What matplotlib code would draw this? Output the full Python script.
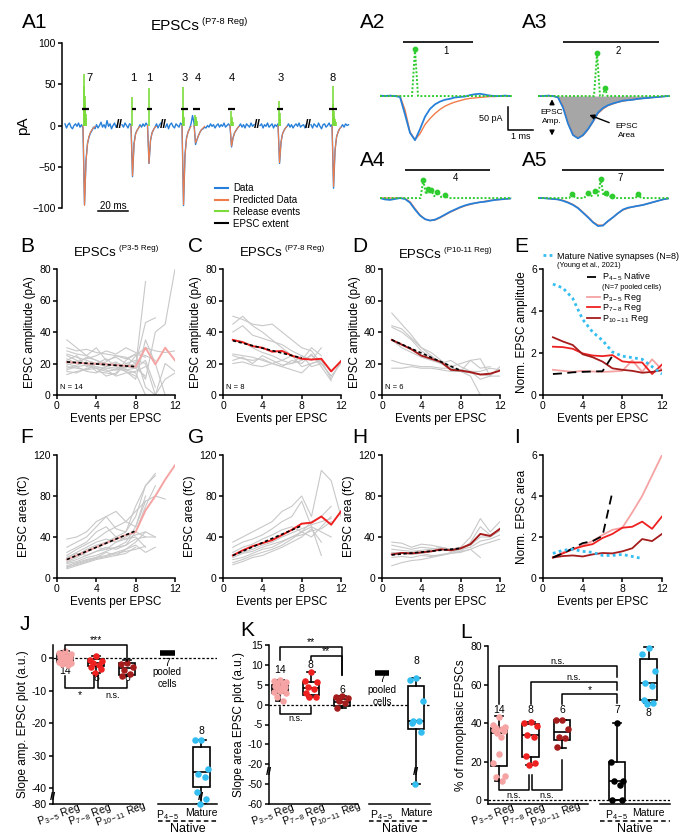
import numpy as np
import matplotlib
matplotlib.use("Agg")
import matplotlib.pyplot as plt
import matplotlib.transforms as mtransforms

plt.rcParams["font.family"] = ["Liberation Sans", "DejaVu Sans"]
plt.rcParams["mathtext.fontset"] = "custom"
plt.rcParams["mathtext.rm"] = "Liberation Sans"
plt.rcParams["mathtext.it"] = "Liberation Sans:italic"
plt.rcParams["mathtext.bf"] = "Liberation Sans:bold"
plt.rcParams["axes.linewidth"] = 1.1
plt.rcParams["xtick.major.width"] = 1.1
plt.rcParams["ytick.major.width"] = 1.1
plt.rcParams["xtick.major.size"] = 3
plt.rcParams["ytick.major.size"] = 3
plt.rcParams["xtick.labelsize"] = 7.5
plt.rcParams["ytick.labelsize"] = 7.5
plt.rcParams["xtick.major.pad"] = 1.5
plt.rcParams["ytick.major.pad"] = 1.5

BLUE = "#2680d9"
ORANGE = "#f07c4a"
LIME = "#7cdc3c"
GREEN = "#2ecc2e"
GRAY = "#c8c8c8"
PINK = "#f5a3a3"
RED = "#ee2020"
DRED = "#a51c1c"
CYAN = "#33bdf0"

# ---------------- A1 : example recording (P7-8 Reg), 1 ms samples ----------------
a1_seg_start = [2, 40, 69, 132, 166]
a1_seg1 = [2, -3, 1, 3, -2, -4, 0, 2, -1, 3, -2, 1, -3,
           -96, -42, -22, -14, -9, -6, -2, -4, 1, -3, 0, 4, -2, 1, -3, 6, -1, 2, -4, 0, 3, -2, 1]
a1_seg2 = [1, -2, 3, 0, -3, 2, 1,
           -62, -22, -10, -6, -3, 1, -2, 2, -1, 3, 0,
           -46, -18, -9, -5, -2, 2, -3, 1, 3]
a1_seg3 = [-2, 2, -4, 1, 3, -1, -3, 2, 0, -2, 3, 1,
           -97, -35, -15, -8, -4, 2, 12, 3,
           -23, -17, -12, -8, -5, -4, -2, -3, 0, -2, 2, -1, 1, -3, 0, 2, -2, 1, -1, 3, -2, 0, 2, -1,
           -26, -15, -9, -6, -3, -1, 2, -2, 1, -3, 2, 0, -2, 3, -1, 1]
a1_seg4 = [0, 2, -3, 1, -1, 3, -2, 0, 2, -3, 1, -1, 2,
           -46, -20, -10, -6, -3, -1, 2, -2, 1, -3, 0, 2, -1, 3, -2, 0, 1, -3, 2]
a1_seg5 = [1, -3, 2, 0, -2, 3, -1, -4, 1, 2, -2, 0, 3, -1, 1,
           -76, -30, -14, -8, -4, -2, 1, -2, 2, 0, 1]
a1_segments = [a1_seg1, a1_seg2, a1_seg3, a1_seg4, a1_seg5]

a1_pred_start = [14, 46, 57, 80, 88, 112, 144, 180]
a1_pred = [[0, -97, -44, -22, -13, -8, -5, -3, -1],
           [0, -61, -23, -11, -6, -3, -1],
           [0, -46, -18, -9, -5, -2, -1],
           [0, -96, -36, -16, -8, -4, -1],
           [0, -21, -17, -12, -8, -5, -3, -1],
           [0, -25, -15, -9, -6, -3, -1],
           [0, -45, -20, -10, -6, -3, -1],
           [0, -74, -30, -14, -8, -4, -2]]

a1_release_t = [14.4, 14.7, 15.0, 15.3, 15.6, 15.9, 16.2, 46.8, 57.8, 80.6, 80.9, 81.2,
                88.8, 89.1, 89.4, 89.7, 112.8, 113.1, 113.4, 113.7, 144.8, 145.1, 145.4,
                180.4, 180.7, 181.0, 181.3, 181.6, 181.9, 182.2, 182.5]
a1_release_h = [62, 48, 36, 28, 20, 14, 9, 35, 45, 47, 20, 10,
                13, 10, 8, 5, 18, 10, 6, 4, 30, 15, 8,
                48, 26, 18, 12, 10, 8, 5, 4]
a1_extent_t0 = [13.3, 46.7, 56.7, 79.3, 87.3, 110.7, 143.3, 178.0]
a1_extent_t1 = [18.0, 49.3, 60.0, 84.0, 92.0, 115.3, 147.3, 183.3]
a1_extent_y = [20, 20, 20, 20, 20, 20, 20, 20]
a1_counts = ["7", "1", "1", "3", "4", "4", "3", "8"]
a1_count_t = [18.0, 47.3, 58.0, 82.0, 90.7, 113.3, 146.0, 180.7]
a1_breaks = [38.5, 67.5, 130.0, 164.5]

# ---------------- A2-A5 : single EPSCs, 0.2 ms samples ----------------
a2_blue = [1, 0, 1, 0, -2, -40, -80, -96, -72, -45, -28, -18, -12, -8, -6, -3, -2, -1, 2, 4, 5, 3, 1, 0, 0, 1, 0]
a2_orange = [0, 0, 0, 0, 0, -30, -78, -95, -82, -62, -49, -38, -29, -22, -17, -13, -10, -7, -5, -4, -3, -2, -1, -1, 0, 0, 0]
a3_blue = [0, 0, 1, 0, -3, -25, -60, -85, -92, -85, -72, -55, -36, -26, -20, -16, -13, -10, -9, -8, -6, -5, -4, -3, -2, -1, 0]
a3_orange = [0, 0, 0, 0, -2, -22, -58, -84, -91, -86, -73, -56, -38, -28, -21, -17, -13, -11, -9, -7, -6, -5, -4, -3, -2, -1, 0]
a4_blue = [0, -3, -4, -2, 0, -2, -10, -25, -38, -46, -49, -47, -42, -36, -30, -25, -20, -16, -13, -11, -9, -8, -6, -4, -3, -2, -1]
a4_orange = [0, 0, 0, 0, 0, -1, -8, -23, -37, -46, -49, -48, -43, -37, -31, -26, -21, -17, -14, -11, -9, -7, -5, -4, -3, -2, -1]
a5_blue = [0, 0, -1, -2, -3, -6, -10, -15, -22, -32, -42, -53, -61, -60, -50, -42, -33, -25, -21, -19, -17, -15, -12, -9, -6, -3, -1]
a5_orange = [0, 0, -1, -2, -3, -5, -9, -14, -21, -31, -41, -52, -59, -59, -51, -42, -33, -26, -22, -19, -17, -15, -12, -9, -6, -3, -1]

a2_rel_t = [0, 1.28, 1.4, 1.52, 5.28]
a2_rel_v = [0, 0, 102, 0, 0]
a3_rel_t = [0, 2.24, 2.36, 2.48, 2.58, 2.68, 2.78, 5.28]
a3_rel_v = [0, 0, 93, 0, 0, 17, 0, 0]
a4_rel_t = [0, 1.62, 1.73, 1.84, 1.93, 1.99, 2.05, 2.17, 2.29, 2.45, 2.6, 2.72, 5.28]
a4_rel_v = [0, 0, 39, 8, 20, 10, 17, 4, 14, 2, 7, 0, 0]
a5_rel_t = [0, 1.25, 1.35, 1.5, 1.85, 1.99, 2.12, 2.29, 2.4, 2.51, 2.62, 2.72, 2.84, 2.95, 3.06, 3.9, 4.01, 4.12, 5.28]
a5_rel_v = [0, 0, 9, 0, 0, 12, 3, 15, 5, 41, 5, 10, 2, 5, 0, 0, 9, 0, 0]
a2_peak_t, a2_peak_v = [1.4], [102]
a3_peak_t, a3_peak_v = [2.36, 2.68], [93, 17]
a4_peak_t, a4_peak_v = [1.73, 1.93, 2.05, 2.29, 2.6], [39, 20, 17, 14, 7]
a5_peak_t, a5_peak_v = [1.35, 1.99, 2.29, 2.51, 2.72, 2.95, 4.01], [9, 12, 15, 41, 10, 5, 9]

a_extent = [(0.92, 3.72, 117), (1.0, 4.84, 117), (1.0, 4.4, 61), (0.96, 5.04, 61)]
a_counts = ["1", "2", "4", "7"]

# ---------------- B-D : EPSC amplitude vs events per EPSC ----------------
b_cells = [[35, 30, 25, 22, 20, 18, 15, 12],
           [30, 28, 29, 27, 26, 25, 24, 20, 46, 49],
           [28, 26, 25, 30, 22, 24, 20, 18, 72],
           [25, 22, 20, 18, 17, 16, 18, 20, 10, 40, 45, 80],
           [23, 20, 24, 22, 19, 21, 17, 25, 30, 28, 27, 28],
           [22, 25, 18, 20, 23, 18, 16, 14, 0],
           [20, 18, 19, 17, 15, 16, 18, 17, 22, 5],
           [18, 17, 16, 20, 18, 17, 15, 10, 35, 20, 0],
           [17, 19, 21, 15, 14, 13, 20, 22, 20, 0, 20, 15],
           [16, 18, 15, 14, 18, 20, 16, 17, 12],
           [15, 14, 17, 18, 16, 12, 14, 15, 18],
           [13, 15, 16, 17, 12, 14, 22, 26, 24],
           [19, 21, 23, 25, 28, 26, 30, 27, 25, 22],
           [26, 24, 22, 20, 21, 25, 23, 26, 5, 0, 10, 14]]
b_mean = [21, 20.5, 20, 19.8, 19.5, 19, 18.5, 18, 30, 19.5, 30, 22]
b_fit = [21, 18]
c_cells = [[50, 48, 45, 44, 45, 40, 35, 30, 28, 20],
           [45, 50, 44, 40, 35, 30, 25, 22, 25, 20, 12],
           [40, 44, 38, 36, 34, 32, 28, 25, 22, 30],
           [35, 34, 30, 27, 25, 22, 20, 22, 30, 25],
           [26, 25, 24, 22, 20, 18, 16, 14, 20, 22, 10, 22],
           [25, 23, 22, 23, 20, 22, 25, 18, 20, 22, 15],
           [22, 24, 20, 25, 22, 19, 20, 25, 18, 20, 12, 20],
           [20, 21, 19, 18, 20, 18, 22, 20, 26, 18, 9]]
c_mean = [35, 33.5, 31, 30, 27.5, 28, 25, 23, 22.5, 23, 15, 21.5]
c_fit = [34.5, 23.5]
d_cells = [[52, 45, 38, 30, 27, 22, 18, 20, 22, 17, 18],
           [44, 42, 36, 30, 25, 20, 18, 15, 12, 0],
           [43, 40, 35, 28, 24, 20, 22, 18, 15, 10, 12],
           [35, 30, 27, 24, 22, 20, 17, 15, 22, 23, 12, 18],
           [22, 20, 19, 18, 18, 17, 17, 16, 15, 15, 17, 16],
           [17, 17, 18, 17, 17, 16, 15, 15, 14, 13, 12, 12]]
d_mean = [35, 32, 29, 25, 23, 21, 16, 15.5, 14.5, 13, 13.5, 15.5]
d_fit = [35, 15.5]
fit_x = [1, 8]

# ---------------- E : normalised amplitude ----------------
e_mature = [5.28, 5.1, 4.6, 3.6, 3.0, 2.6, 2.05, 1.85, 1.78, 1.7, 1.35, 1.0]
e_native = [1.0, 1.03, 1.08, 1.1, 1.12, 1.13, 1.86]
e_p35 = [1.2, 1.15, 1.1, 1.15, 1.12, 1.1, 1.12, 1.15, 1.65, 1.1, 1.7, 1.2]
e_p78 = [2.3, 2.28, 2.2, 1.98, 1.88, 1.85, 1.9, 1.6, 1.55, 1.55, 1.0, 1.45]
e_p1011 = [2.75, 2.55, 2.38, 1.94, 1.8, 1.59, 1.27, 1.2, 1.15, 1.06, 1.1, 1.18]

# ---------------- F-H : EPSC area vs events per EPSC ----------------
f_cells = [[38, 40, 45, 55, 60, 48, 45, 60, 90, 100],
           [30, 35, 40, 50, 60, 65, 55, 50, 75, 80, 77],
           [25, 30, 35, 45, 50, 40, 45, 70, 90, 102],
           [22, 28, 33, 38, 45, 50, 55, 65, 75],
           [20, 25, 30, 35, 38, 35, 40, 45, 40, 40],
           [18, 22, 28, 32, 35, 40, 38, 42, 45, 40],
           [16, 20, 25, 30, 28, 35, 38, 40, 30],
           [15, 18, 22, 26, 30, 28, 32, 38, 40],
           [14, 16, 20, 22, 26, 30, 35, 50, 80],
           [12, 15, 18, 20, 25, 22, 28, 35, 45],
           [10, 14, 17, 20, 22, 25, 28, 32, 25, 30],
           [9, 12, 15, 18, 20, 22, 24, 30],
           [20, 24, 22, 26, 28, 30, 32, 45, 70, 90],
           [11, 13, 16, 19, 21, 24, 26, 28, 31]]
f_mean = [18, 22, 26, 30, 34, 38, 42, 45, 66, 80, 96, 110]
f_fit = [18, 46]
g_cells = [[35, 40, 45, 50, 55, 65, 70, 80, 60, 105, 95, 60],
           [30, 35, 38, 42, 48, 55, 60, 75, 50, 22],
           [25, 30, 33, 38, 42, 47, 50, 45, 55, 60, 70],
           [22, 25, 28, 32, 35, 40, 44, 48, 52, 55, 58],
           [20, 24, 26, 30, 33, 36, 40, 45, 50, 45, 40],
           [18, 20, 24, 28, 30, 35, 40, 42, 46, 48, 55],
           [15, 18, 22, 25, 28, 32, 38, 45, 40, 50, 60],
           [13, 16, 20, 22, 26, 30, 35, 40, 48, 35]]
g_mean = [22, 27, 31, 34, 37, 42, 47, 53, 54, 60, 52, 65]
g_fit = [22, 51]
h_cells = [[35, 34, 30, 33, 32, 30, 28, 30, 40, 58, 45, 55],
           [32, 30, 28, 30, 29, 28, 27, 26, 35, 50, 42, 48],
           [28, 27, 26, 27, 28, 30, 28, 29, 32, 40, 40, 46],
           [25, 24, 23, 24, 22, 22, 25, 28, 30, 36, 38, 42],
           [20, 21, 20, 22, 21, 23, 24, 25, 28, 20],
           [12, 15, 17, 18, 20, 22, 24, 26, 28, 32, 35, 38]]
h_mean = [23, 24.5, 24, 25, 26, 28, 27, 29, 33, 43, 41, 48]
h_fit = [22.5, 29]

# ---------------- I : normalised area ----------------
i_mature = [1.2, 1.35, 1.4, 1.3, 1.25, 1.1, 1.1, 1.15, 1.05, 0.95]
i_native = [1.0, 1.2, 1.45, 1.7, 1.8, 2.05, 4.2]
i_p35 = [1.0, 1.25, 1.4, 1.6, 1.8, 2.1, 2.35, 2.45, 3.2, 4.0, 5.0, 6.0]
i_p78 = [1.0, 1.2, 1.4, 1.55, 1.65, 1.95, 2.15, 2.45, 2.5, 2.75, 2.4, 3.0]
i_p1011 = [1.0, 1.07, 1.1, 1.05, 1.15, 1.22, 1.2, 1.3, 1.45, 1.9, 1.8, 2.15]

# ---------------- J-L : summary box plots ----------------
group_labels = [r"P$_{3-5}$ Reg", r"P$_{7-8}$ Reg", r"P$_{10-11}$ Reg", r"P$_{4-5}$", "Mature"]
group_n = ["14", "8", "6", "7", "8"]

j_points = [[2.2, 1.6, 1.2, 0.9, 0.6, 0.3, 0.1, -0.2, -0.5, -0.8, -1.1, -1.4, -1.8, -2.1],
            [0.6, -0.5, -1.0, -1.6, -2.1, -2.8, -3.5, -4.6],
            [-1.5, -1.9, -2.8, -3.6, -4.8, -5.4],
            [],
            [-25.3, -25.3, -34.0, -35.8, -36.6, -50, -68, -80]]
# q1, median, q3, whisker low, whisker high
j_box = [(-1.2, -0.3, 1.3, -2.1, 2.2),
         (-2.5, -1.5, -0.2, -4.6, 0.6),
         (-5.2, -3.1, -1.4, -5.4, -0.6),
         None,
         (-39.7, -35.1, -27.5, -80, -25.3)]
j_pooled = [1.6]

k_points = [[6.2, 5.9, 5.6, 5.3, 5.0, 4.7, 4.4, 4.1, 3.8, 3.5, 3.2, 2.8, 2.0, 1.0],
            [8.2, 6.0, 5.6, 4.5, 3.9, 2.8, 2.0, 1.8],
            [2.2, 2.0, 1.6, 0.9, 0.3, -0.8],
            [],
            [6.6, 6.2, 0.8, -4.0, -4.2, -4.6, -6.8, -50]]
k_box = [(2.8, 4.0, 5.0, 1.0, 6.2),
         (2.5, 4.3, 5.8, 1.8, 8.2),
         (-0.4, 0.6, 1.5, -0.8, 2.2),
         None,
         (-6.2, -4.2, 4.7, -50, 6.6)]
k_pooled = [8.0]

l_points = [[43, 39, 38, 37.5, 37, 36.5, 36, 35, 33, 24, 19.5, 12.5, 12, 10],
            [40.5, 40, 38.5, 34, 33, 23, 19.5, 18.5],
            [41.5, 41.5, 37, 33, 32, 27.5],
            [40, 20, 10, 10, 8, 0, 0],
            [79, 76, 67, 61, 59, 52, 50.5, 50]]
l_box = [(17.8, 35.0, 37.2, 9.9, 43.6),
         (22.5, 34.0, 39.3, 18.2, 40.7),
         (31.2, 35.5, 41.5, 27.2, 41.5),
         (0.0, 9.9, 19.6, 0.0, 40.2),
         (52.0, 60.6, 73.2, 50.6, 79.6)]

group_colors = [PINK, RED, DRED, "black", CYAN]

W, H = 698, 840
fig = plt.figure(figsize=(W / 100, H / 100), dpi=100)


def px_axes(l, t, r, b):
    return fig.add_axes([l / W, 1 - b / H, (r - l) / W, (b - t) / H])


def ftext(x, y, s, **kw):
    fig.text(x / W, 1 - y / H, s, **kw)


def panel_title(xr, y, sup, fs=9.5):
    ftext(xr, y, "EPSCs", ha="right", va="center", fontsize=fs)
    ftext(xr + 2, y - 4, sup, ha="left", va="center", fontsize=fs * 0.61)


# panel letters
for lab, x, y in [("A1", 22, 22), ("A2", 360, 23), ("A3", 522, 23), ("A4", 360, 160), ("A5", 522, 160),
                  ("B", 20, 246), ("C", 188, 246), ("D", 352, 246), ("E", 514, 246),
                  ("F", 20, 437), ("G", 188, 437), ("H", 352, 437), ("I", 514, 437),
                  ("J", 20, 624), ("K", 240, 630), ("L", 460, 632)]:
    ftext(x, y, lab, ha="left", va="center", fontsize=15)

# ---------------- A1 ----------------
ax = px_axes(62, 43, 352, 208)
for t0, vals in zip(a1_seg_start, a1_segments):
    ax.plot(t0 + np.arange(len(vals)), vals, color=BLUE, lw=1.0, zorder=2)
for t0, vals in zip(a1_pred_start, a1_pred):
    ax.plot(t0 + np.arange(len(vals)), vals, color=ORANGE, lw=0.8, zorder=3)
ax.vlines(a1_release_t, 0, a1_release_h, color=LIME, lw=1.2, zorder=4)
ax.hlines(a1_extent_y, a1_extent_t0, a1_extent_t1, color="black", lw=1.6, zorder=5)
for t, s in zip(a1_count_t, a1_counts):
    ax.text(t, 57, s, ha="center", va="center", fontsize=8)
for t in a1_breaks:
    ax.text(t, 0, "//", ha="center", va="center", fontsize=9, fontweight="bold")
ax.plot([24, 44], [-104, -104], color="black", lw=1.1, clip_on=False)
ax.text(34, -97, "20 ms", ha="center", va="center", fontsize=7)
ax.set_xlim(0, 193.3)
ax.set_ylim(-100, 100)
ax.set_yticks([-100, -50, 0, 50, 100])
ax.set_xticks([])
for s in ["top", "right", "bottom"]:
    ax.spines[s].set_visible(False)
ax.set_ylabel("pA", fontsize=11, labelpad=2)
panel_title(200, 26, "(P7-8 Reg)", fs=11)
h_data, = ax.plot([], [], color=BLUE, lw=1.5)
h_pred, = ax.plot([], [], color=ORANGE, lw=1.5)
h_rel, = ax.plot([], [], color=LIME, lw=1.5)
h_ext, = ax.plot([], [], color="black", lw=1.5)
fig.legend([h_data, h_pred, h_rel, h_ext], ["Data", "Predicted Data", "Release events", "EPSC extent"],
           loc="upper left", bbox_to_anchor=(215 / W, 1 - 183 / H), frameon=False, fontsize=7,
           handlelength=1.3, handletextpad=0.6, labelspacing=0.2, borderpad=0, borderaxespad=0)

# ---------------- A2-A5 ----------------
a_t = np.round(np.arange(27) * 0.2, 2)
a_panels = [((380, 40, 512, 142), (-100, 122), a2_blue, a2_orange, a2_rel_t, a2_rel_v, a2_peak_t, a2_peak_v),
            ((538, 40, 670, 142), (-100, 122), a3_blue, a3_orange, a3_rel_t, a3_rel_v, a3_peak_t, a3_peak_v),
            ((380, 160, 512, 232), (-74, 83), a4_blue, a4_orange, a4_rel_t, a4_rel_v, a4_peak_t, a4_peak_v),
            ((538, 160, 670, 232), (-74, 83), a5_blue, a5_orange, a5_rel_t, a5_rel_v, a5_peak_t, a5_peak_v)]
a_axes = []
for k, (rect, ylim, blue, orange, rt, rv, pt, pv) in enumerate(a_panels):
    ax = px_axes(*rect)
    if k == 1:
        ax.fill_between(a_t, blue, 0, color="#a6a6a6", lw=0, zorder=1)
    ax.plot(a_t, orange, color=ORANGE, lw=1.0, zorder=2)
    ax.plot(a_t, blue, color=BLUE, lw=1.3, zorder=3)
    ax.plot(rt, rv, color=GREEN, lw=1.4, ls=(0, (1, 1)), zorder=4)
    ax.scatter(pt, pv, s=10, color=GREEN, zorder=5)
    x0, x1, yb = a_extent[k]
    ax.hlines([yb], [x0], [x1], color="black", lw=1.2, clip_on=False)
    ax.text((x0 + x1) / 2 + 0.3, yb - 20 if k < 2 else yb - 17, a_counts[k], ha="center", va="center", fontsize=7)
    ax.set_xlim(0, 5.28)
    ax.set_ylim(*ylim)
    ax.axis("off")
    a_axes.append(ax)

ax = a_axes[0]
ax.plot([5.12, 5.12, 6.12], [-24, -74, -74], color="black", lw=1.1, clip_on=False)
ax.text(4.9, -48, "50 pA", ha="right", va="center", fontsize=6.5)
ax.text(5.62, -88, "1 ms", ha="center", va="center", fontsize=6.5)

ax = a_axes[1]
ax.annotate("", xy=(0.56, -1), xytext=(0.56, -24),
            arrowprops=dict(arrowstyle="-|>", color="black", lw=1, mutation_scale=7))
ax.annotate("", xy=(0.56, -92), xytext=(0.56, -70),
            arrowprops=dict(arrowstyle="-|>", color="black", lw=1, mutation_scale=7))
ax.text(0.56, -46, "EPSC\nAmp.", ha="center", va="center", fontsize=6, linespacing=1.3)
ax.annotate("", xy=(1.95, -39), xytext=(2.95, -60),
            arrowprops=dict(arrowstyle="-|>", color="black", lw=1, mutation_scale=7))
ax.text(3.56, -76, "EPSC\nArea", ha="center", va="center", fontsize=6, linespacing=1.3)


# ---------------- B-D, F-H ----------------
def style_events(ax, ylim, yticks, ylabel):
    ax.set_xlim(0, 12)
    ax.set_ylim(*ylim)
    ax.set_xticks([0, 4, 8, 12])
    ax.set_yticks(yticks)
    for s in ["top", "right"]:
        ax.spines[s].set_visible(False)
    ax.set_xlabel("Events per EPSC", fontsize=8.5, labelpad=1)
    ax.set_ylabel(ylabel, fontsize=8.5, labelpad=2)


def cells_panel(rect, cells, mean, fit, color, ylim, yticks, ylabel, ntext=None):
    ax = px_axes(*rect)
    for c in cells:
        ax.plot(np.arange(1, len(c) + 1), c, color=GRAY, lw=0.8, zorder=1)
    ax.plot(np.arange(1, len(mean) + 1), mean, color=color, lw=1.4, zorder=2)
    ax.plot(fit_x, fit, color="black", lw=1.2, ls=(0, (2, 1.5)), zorder=3)
    if ntext:
        ax.text(0.3, 2.5, ntext, fontsize=5.5, ha="left", va="bottom")
    style_events(ax, ylim, yticks, ylabel)
    return ax


cells_panel((57, 269, 175, 395), b_cells, b_mean, b_fit, PINK, (0, 80), [0, 20, 40, 60, 80], "EPSC amplitude (pA)", "N = 14")
cells_panel((223, 269, 341, 395), c_cells, c_mean, c_fit, RED, (0, 80), [0, 20, 40, 60, 80], "EPSC amplitude (pA)", "N = 8")
cells_panel((382, 269, 500, 395), d_cells, d_mean, d_fit, DRED, (0, 80), [0, 20, 40, 60, 80], "EPSC amplitude (pA)", "N = 6")
panel_title(117, 253, "(P3-5 Reg)")
panel_title(283, 253, "(P7-8 Reg)")
panel_title(442, 255, "(P10-11 Reg)")

cells_panel((57, 455, 175, 578), f_cells, f_mean, f_fit, PINK, (0, 120), [0, 40, 80, 120], "EPSC area (fC)")
cells_panel((223, 455, 341, 578), g_cells, g_mean, g_fit, RED, (0, 120), [0, 40, 80, 120], "EPSC area (fC)")
cells_panel((382, 455, 500, 578), h_cells, h_mean, h_fit, DRED, (0, 120), [0, 40, 80, 120], "EPSC area (fC)")


# ---------------- E, I ----------------
def norm_panel(rect, mature, native, p35, p78, p1011, ylabel):
    ax = px_axes(*rect)
    lm, = ax.plot(np.arange(1, len(mature) + 1), mature, color=CYAN, lw=2, ls=(0, (1, 1.2)), zorder=5)
    ln, = ax.plot(np.arange(1, len(native) + 1), native, color="black", lw=1.3, ls=(0, (5, 3)), zorder=4)
    l1, = ax.plot(np.arange(1, len(p35) + 1), p35, color=PINK, lw=1.3, zorder=1)
    l2, = ax.plot(np.arange(1, len(p78) + 1), p78, color=RED, lw=1.3, zorder=2)
    l3, = ax.plot(np.arange(1, len(p1011) + 1), p1011, color=DRED, lw=1.3, zorder=3)
    style_events(ax, (0, 6), [0, 2, 4, 6], ylabel)
    return ax, (lm, ln, l1, l2, l3)


ax, (lm, ln, l1, l2, l3) = norm_panel((543, 269, 662, 395), e_mature, e_native, e_p35, e_p78, e_p1011, "Norm. EPSC amplitude")
leg_kw = dict(frameon=False, fontsize=6.5, handletextpad=0.3, borderpad=0, borderaxespad=0)
leg1 = ax.legend([lm], ["Mature Native synapses (N=8)"], loc="center left", bbox_to_anchor=(0.0, 1.103),
                 handlelength=1.2, **leg_kw)
ax.add_artist(leg1)
ax.text(0.118, 1.03, "(Young et al., 2021)", transform=ax.transAxes, fontsize=5.3, va="center")
leg2 = ax.legend([ln], [r"P$_{4-5}$ Native"], loc="center left", bbox_to_anchor=(0.37, 0.936),
                 handlelength=1.4, **leg_kw)
ax.add_artist(leg2)
ax.text(0.5, 0.857, "(N=7 pooled cells)", transform=ax.transAxes, fontsize=5.3, va="center")
ax.legend([l1, l2, l3], [r"P$_{3-5}$ Reg", r"P$_{7-8}$ Reg", r"P$_{10-11}$ Reg"], loc="upper left",
          bbox_to_anchor=(0.37, 0.82), handlelength=1.4, labelspacing=-0.15, handleheight=0.5, **leg_kw)

norm_panel((543, 455, 662, 578), i_mature, i_native, i_p35, i_p78, i_p1011, "Norm. EPSC area")


# ---------------- J-L ----------------
def swarm(n, w):
    pattern = np.array([0, -1, 1, -0.5, 0.5, -0.75, 0.75, -0.25, 0.25])
    return w * np.resize(pattern, n)


label_shift = mtransforms.ScaledTranslation(-9 / 100, -4 / 100, fig.dpi_scale_trans)


def box_panel(rect, positions, points, boxes, xlim, seg1, seg2, ylim, yticks, ylabel, scale=None):
    ax = px_axes(*rect)
    if scale is not None:
        ax.set_yscale("function", functions=scale)
    pos_b = [p for p, b in zip(positions, boxes) if b is not None]
    stats = [dict(q1=b[0], med=b[1], q3=b[2], whislo=b[3], whishi=b[4], fliers=[]) for b in boxes if b is not None]
    ax.bxp(stats, positions=pos_b, widths=0.52, showfliers=False, patch_artist=True, capwidths=0.26,
           boxprops=dict(facecolor="white", edgecolor="black", lw=1.2),
           medianprops=dict(color="black", lw=1.2), whiskerprops=dict(color="black", lw=1.2),
           capprops=dict(color="black", lw=1.2), manage_ticks=False, zorder=2)
    for p, vals, c in zip(positions, points, group_colors):
        if len(vals):
            ax.scatter(p + swarm(len(vals), 0.2), vals, s=22, color=c, zorder=4, clip_on=False, linewidths=0)
    ax.axhline(0, color="black", lw=0.9, ls=(0, (2, 1.5)), zorder=1)
    ax.set_xlim(*xlim)
    ax.set_ylim(*ylim)
    ax.set_yticks(yticks)
    ax.set_yticklabels([str(v) for v in yticks])
    ax.yaxis.set_minor_locator(matplotlib.ticker.NullLocator())
    for s in ["top", "right"]:
        ax.spines[s].set_visible(False)
    ax.spines["bottom"].set_bounds(xlim[0], seg1)
    ax.plot(seg2, [0, 0], color="black", lw=1.1, transform=ax.get_xaxis_transform(), clip_on=False)
    ax.set_xticks(positions)
    ax.set_xticklabels(["", "", ""] + group_labels[3:], fontsize=7.5)
    for p, lab in zip(positions[:3], group_labels[:3]):
        ax.text(p, 0, lab, rotation=20, rotation_mode="anchor", ha="center", va="top", fontsize=7.5,
                transform=ax.get_xaxis_transform() + label_shift, clip_on=False)
    ax.tick_params(axis="x", length=0, pad=3)
    ax.plot(seg2, [-0.107, -0.107], color="black", lw=1.1, ls=(0, (3, 2)),
            transform=ax.get_xaxis_transform(), clip_on=False)
    ax.text(np.mean(seg2), -0.16, "Native", ha="center", va="center", fontsize=9,
            transform=ax.get_xaxis_transform())
    ax.set_ylabel(ylabel, fontsize=8.5, labelpad=2)
    return ax


def bracket(ax, x0, x1, y, yl, yr, text, ty, fs=7.5):
    ax.plot([x0, x0, x1, x1], [yl, y, y, yr], color="black", lw=1.1, clip_on=False, zorder=5)
    ax.text((x0 + x1) / 2, ty, text, ha="center", va="center", fontsize=fs)


def j_fwd(y):
    y = np.asarray(y, dtype=float)
    return np.where(y >= -40, y, -40 + (y + 40) * 0.1225)


def j_inv(d):
    d = np.asarray(d, dtype=float)
    return np.where(d >= -40, d, -40 + (d + 40) / 0.1225)


def k_fwd(y):
    y = np.asarray(y, dtype=float)
    return np.select([y >= -10, y >= -20, y >= -50],
                     [y, -10 + (y + 10) * 0.5, -15 + (y + 20) / 6.0], -20 + (y + 50) * 0.5)


def k_inv(d):
    d = np.asarray(d, dtype=float)
    return np.select([d >= -10, d >= -15, d >= -20],
                     [d, -10 + (d + 10) * 2, -20 + (d + 15) * 6.0], -50 + (d + 20) * 2)


pos_jk = [1, 2, 3, 4.3, 5.4]
ax = box_panel((53, 645, 217, 804), pos_jk, j_points, j_box, (0.61, 5.9), 3.42, [4.0, 5.9], (-80, 4),
               [0, -10, -20, -30, -40, -80], "Slope amp. EPSC plot (a.u.)", scale=(j_fwd, j_inv))
ax.hlines(j_pooled, [4.3 - 0.23], [4.3 + 0.23], color="black", lw=4)
ax.text(1, -4, "14", ha="center", va="center", fontsize=7.5)
ax.text(2, -6, "8", ha="center", va="center", fontsize=7.5)
ax.text(3, -6.3, "6", ha="center", va="center", fontsize=7.5)
ax.text(4.3, -1.5, "7", ha="center", va="center", fontsize=7.5)
ax.text(4.3, -6.2, "pooled\ncells", ha="center", va="center", fontsize=7, linespacing=1.2)
ax.text(5.4, -22.5, "8", ha="center", va="center", fontsize=7.5)
bracket(ax, 1, 3, 4.0, 2.5, -0.8, "***", 5.5)
bracket(ax, 1, 1.93, -9.1, -5.6, -5.6, "*", -11.3)
bracket(ax, 2.07, 3, -9.1, -5.6, -7.0, "n.s.", -11.6, fs=6.5)
ax.text(0.61, -62, "//", ha="center", va="center", fontsize=8, fontweight="bold", clip_on=False)
ax.text(5.4, -62, "//", ha="center", va="center", fontsize=8, fontweight="bold")

ax = box_panel((269, 645, 430, 804), pos_jk, k_points, k_box, (0.65, 5.84), 3.5, [3.87, 5.84], (-60, 15),
               [15, 10, 5, 0, -5, -10, -20, -50, -60], "Slope area EPSC plot (a.u.)", scale=(k_fwd, k_inv))
ax.hlines(k_pooled, [4.3 - 0.23], [4.3 + 0.23], color="black", lw=4)
ax.text(1, 8.6, "14", ha="center", va="center", fontsize=7.5)
ax.text(2, 9.9, "8", ha="center", va="center", fontsize=7.5)
ax.text(3, 3.6, "6", ha="center", va="center", fontsize=7.5)
ax.text(4.3, 6.5, "7", ha="center", va="center", fontsize=7.5)
ax.text(4.3, 2.1, "pooled\ncells", ha="center", va="center", fontsize=7, linespacing=1.2)
ax.text(5.4, 11, "8", ha="center", va="center", fontsize=7.5)
bracket(ax, 1, 3, 14.6, 11.3, 7.5, "**", 15.8)
bracket(ax, 2, 3, 12.2, 11.3, 7.5, "**", 13.4)
bracket(ax, 1, 2, -2.3, -0.7, -0.7, "n.s.", -3.6, fs=6.5)
ax.text(0.65, -32, "//", ha="center", va="center", fontsize=8, fontweight="bold", clip_on=False)
ax.text(5.4, -32, "//", ha="center", va="center", fontsize=8, fontweight="bold")

pos_l = [1, 2, 3, 4.75, 5.75]
ax = box_panel((488, 646, 670, 804), pos_l, l_points, l_box, (0.65, 6.43), 3.83, [4.2, 6.43], (-2, 80),
               [0, 20, 40, 60, 80], "% of monophasic EPSCs")
for p, n, y in zip(pos_l, group_n, [47, 47, 47, 47, 45]):
    ax.text(p, y, n, ha="center", va="center", fontsize=7.5)
bracket(ax, 1, 4.75, 69.6, 50, 64, "n.s.", 72, fs=6.5)
bracket(ax, 2, 4.75, 61.5, 50, 57, "n.s.", 63.8, fs=6.5)
bracket(ax, 3, 4.75, 55, 50, 50.5, "*", 57)
bracket(ax, 1, 1.95, 5.2, 10.8, 13, "n.s.", 2.5, fs=6.5)
bracket(ax, 2.05, 3, 5.2, 13, 20.8, "n.s.", 2.5, fs=6.5)

fig.savefig("out.png", dpi=100)
